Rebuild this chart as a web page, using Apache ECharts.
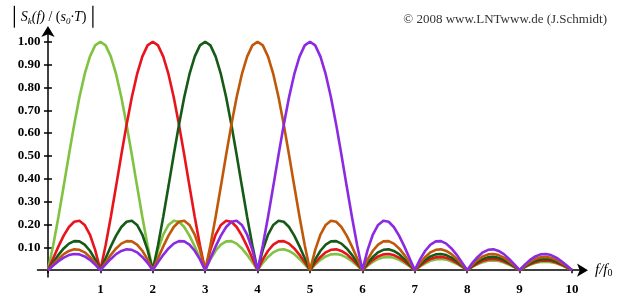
<!DOCTYPE html>
<html><head><meta charset="utf-8">
<script src="https://cdn.jsdelivr.net/npm/echarts@6/dist/echarts.min.js"></script>
<style>html,body{margin:0;padding:0;background:#fff}#c{width:620px;height:304px}</style>
</head><body><div id="c"></div>
<script>
const fx = [0,0.1,0.2,0.3,0.4,0.5,0.6,0.7,0.8,0.9,1,1.1,1.2,1.3,1.4,1.5,1.6,1.7,1.8,1.9,2,2.1,2.2,2.3,2.4,2.5,2.6,2.7,2.8,2.9,3,3.1,3.2,3.3,3.4,3.5,3.6,3.7,3.8,3.9,4,4.1,4.2,4.3,4.4,4.5,4.6,4.7,4.8,4.9,5,5.1,5.2,5.3,5.4,5.5,5.6,5.7,5.8,5.9,6,6.1,6.2,6.3,6.4,6.5,6.6,6.7,6.8,6.9,7,7.1,7.2,7.3,7.4,7.5,7.6,7.7,7.8,7.9,8,8.1,8.2,8.3,8.4,8.5,8.6,8.7,8.8,8.9,9,9.1,9.2,9.3,9.4,9.5,9.6,9.7,9.8,9.9,10];

const s1 = [0,.109,.234,.368,.505,.637,.757,.858,.935,.984,1,.984,.935,.858,.757,.637,.505,.368,.234,.109,0,.089,.156,.198,.216,.212,.189,.151,.104,.052,0,.047,.085,.112,.126,.127,.116,.095,.067,.034,0,.032,.058,.078,.089,.091,.084,.070,.049,.025,0,.024,.045,.060,.069,.071,.066,.055,.039,.020,0,.019,.036,.049,.056,.058,.054,.045,.032,.017,0,.016,.030,.041,.047,.049,.046,.038,.028,.014,0,.014,.026,.035,.041,.042,.040,.033,.024,.012,0,.012,.023,.031,.036,.037,.035,.030,.021,.011,0];

const s2 = [0,.052,.104,.151,.189,.212,.216,.198,.156,.089,0,.109,.234,.368,.505,.637,.757,.858,.935,.984,1,.984,.935,.858,.757,.637,.505,.368,.234,.109,0,.089,.156,.198,.216,.212,.189,.151,.104,.052,0,.047,.085,.112,.126,.127,.116,.095,.067,.034,0,.032,.058,.078,.089,.091,.084,.070,.049,.025,0,.024,.045,.060,.069,.071,.066,.055,.039,.020,0,.019,.036,.049,.056,.058,.054,.045,.032,.017,0,.016,.030,.041,.047,.049,.046,.038,.028,.014,0,.014,.026,.035,.041,.042,.040,.033,.024,.012,0];

const s3 = [0,.034,.067,.095,.116,.127,.126,.112,.085,.047,0,.052,.104,.151,.189,.212,.216,.198,.156,.089,0,.109,.234,.368,.505,.637,.757,.858,.935,.984,1,.984,.935,.858,.757,.637,.505,.368,.234,.109,0,.089,.156,.198,.216,.212,.189,.151,.104,.052,0,.047,.085,.112,.126,.127,.116,.095,.067,.034,0,.032,.058,.078,.089,.091,.084,.070,.049,.025,0,.024,.045,.060,.069,.071,.066,.055,.039,.020,0,.019,.036,.049,.056,.058,.054,.045,.032,.017,0,.016,.030,.041,.047,.049,.046,.038,.028,.014,0];

const s4 = [0,.025,.049,.070,.084,.091,.089,.078,.058,.032,0,.034,.067,.095,.116,.127,.126,.112,.085,.047,0,.052,.104,.151,.189,.212,.216,.198,.156,.089,0,.109,.234,.368,.505,.637,.757,.858,.935,.984,1,.984,.935,.858,.757,.637,.505,.368,.234,.109,0,.089,.156,.198,.216,.212,.189,.151,.104,.052,0,.047,.085,.112,.126,.127,.116,.095,.067,.034,0,.032,.058,.078,.089,.091,.084,.070,.049,.025,0,.024,.045,.060,.069,.071,.066,.055,.039,.020,0,.019,.036,.049,.056,.058,.054,.045,.032,.017,0];

const s5 = [0,.020,.039,.055,.066,.071,.069,.060,.045,.024,0,.025,.049,.070,.084,.091,.089,.078,.058,.032,0,.034,.067,.095,.116,.127,.126,.112,.085,.047,0,.052,.104,.151,.189,.212,.216,.198,.156,.089,0,.109,.234,.368,.505,.637,.757,.858,.935,.984,1,.984,.935,.858,.757,.637,.505,.368,.234,.109,0,.089,.156,.198,.216,.212,.189,.151,.104,.052,0,.047,.085,.112,.126,.127,.116,.095,.067,.034,0,.032,.058,.078,.089,.091,.084,.070,.049,.025,0,.024,.045,.060,.069,.071,.066,.055,.039,.020,0];

const xTicks = [0,1,2,3,4,5,6,7,8,9,10];
const xLabels = [1,2,3,4,5,6,7,8,9,10];
const yTicks = [0.1,0.2,0.3,0.4,0.5,0.6,0.7,0.8,0.9,1.0];

const seriesDefs = [
  {name:'k=1', data:s1, color:'#80c242'},
  {name:'k=2', data:s2, color:'#e8141b'},
  {name:'k=3', data:s3, color:'#165a18'},
  {name:'k=4', data:s4, color:'#c0580a'},
  {name:'k=5', data:s5, color:'#8a2be2'}
];

const serif = '"Liberation Serif","DejaVu Serif",serif';
const chart = echarts.init(document.getElementById('c'), null, {renderer:'canvas'});

const axisLineStyle = {color:'#000', width:1.5};
chart.setOption({
  animation:false,
  backgroundColor:'#fff',
  grid:{left:37.5, right:37, top:31, bottom:27, containLabel:false},
  title:[{
    text:'{b|\u2502}{i|S}{s|k}{i|(f)} / ({i|s}{s|0}{i|\u00b7T}){b|\u2502}',
    left:3, top:3,
    textStyle:{fontFamily:serif, fontSize:14, fontWeight:'normal', color:'#000',
      rich:{
        i:{fontFamily:serif, fontStyle:'italic', fontSize:14, color:'#000'},
        s:{fontFamily:serif, fontStyle:'italic', fontSize:9, color:'#000', verticalAlign:'bottom', padding:[7,0,0,0]},
        b:{fontFamily:serif, fontSize:18, color:'#000'}
      }}
  },{
    text:'\u00a9 2008 www.LNTwww.de (J.Schmidt)',
    right:8, top:8,
    textStyle:{fontFamily:serif, fontSize:13, fontWeight:'normal', color:'#333'}
  }],
  xAxis:[{
    type:'value', min:-0.2, max:10.21,
    axisLine:{onZero:true, symbol:['none','arrow'], symbolSize:[10,11], symbolOffset:[0,5], lineStyle:axisLineStyle},
    axisTick:{show:true, customValues:xTicks, length:3, lineStyle:{color:'#000', width:1.5}},
    axisLabel:{customValues:xLabels, fontFamily:serif, fontWeight:'bold', fontSize:13, color:'#000', margin:6},
    splitLine:{show:false},
    name:'{i|f}{i|/f}{s|0}', nameLocation:'end', nameGap:12,
    nameTextStyle:{rich:{
      i:{fontFamily:serif, fontStyle:'italic', fontSize:15, color:'#000'},
      s:{fontFamily:serif, fontSize:10, color:'#000', verticalAlign:'bottom', padding:[7,0,0,0]}
    }}
  },{
    type:'value', min:-0.2, max:10.21,
    axisLine:{show:false, onZero:true},
    axisTick:{show:true, inside:true, customValues:xTicks, length:3, lineStyle:{color:'#000', width:1.5}},
    axisLabel:{show:false}, splitLine:{show:false}
  }],
  yAxis:[{
    type:'value', min:-0.03, max:1.047,
    axisLine:{onZero:true, symbol:['none','arrow'], symbolSize:[10,11], symbolOffset:[0,5], lineStyle:axisLineStyle},
    axisTick:{show:true, customValues:yTicks, length:4, lineStyle:{color:'#000', width:1.5}},
    axisLabel:{customValues:yTicks, formatter:v=>v.toFixed(2), fontFamily:serif, fontWeight:'bold', fontSize:13, color:'#000', margin:-3},
    splitLine:{show:false}
  },{
    type:'value', min:-0.03, max:1.047, position:'left',
    axisLine:{show:false, onZero:true},
    axisTick:{show:true, inside:true, customValues:yTicks, length:4, lineStyle:{color:'#000', width:1.5}},
    axisLabel:{show:false}, splitLine:{show:false}
  }],
  series: seriesDefs.map(s=>({
    type:'line', name:s.name, showSymbol:false, smooth:false,
    data: fx.map((x,i)=>[x, s.data[i]]),
    lineStyle:{color:s.color, width:2.6}, itemStyle:{color:s.color},
    clip:false, z:3
  }))
});
</script></body></html>
